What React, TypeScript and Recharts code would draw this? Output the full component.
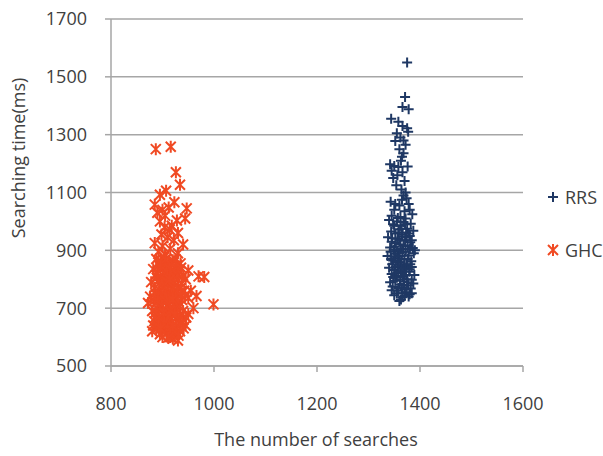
import { ScatterChart, Scatter, XAxis, YAxis, CartesianGrid, Legend, Label } from "recharts";

// [number of searches, searching time (ms)]
const rrsPoints: [number, number][] = [
  [1375, 1550], [1371, 1430], [1366, 1396], [1378, 1388], [1344, 1355], [1366, 1330], [1375, 1322],
  [1355, 1305], [1362, 1290], [1368, 1280], [1352, 1278], [1372, 1265], [1360, 1250], [1368, 1236],
  [1365, 1224], [1342, 1198], [1350, 1192], [1358, 1188], [1376, 1190], [1345, 1175], [1356, 1160],
  [1366, 1170], [1348, 1150], [1370, 1140], [1372, 1100], [1368, 1090], [1374, 1080], [1365, 1075],
  [1343, 1068], [1378, 1060], [1360, 1055], [1350, 1040], [1370, 1035], [1385, 1025], [1345, 1020],
  [1362, 1015], [1357, 1012], [1372, 1010], [1380, 1040], [1352, 1060], [1364, 1110], [1354, 1125],
  [1363, 1210], [1377, 1310], [1358, 1345],
  [1340, 1005], [1348, 990], [1355, 1000], [1362, 985], [1368, 998], [1375, 975], [1382, 992],
  [1344, 965], [1352, 958], [1359, 972], [1366, 955], [1373, 962], [1380, 950], [1387, 968],
  [1350, 985], [1358, 962], [1364, 975], [1371, 990], [1378, 958],
  [1338, 945], [1345, 930], [1351, 912], [1357, 940], [1362, 920], [1367, 905], [1371, 935],
  [1376, 915], [1381, 928], [1386, 908], [1349, 902], [1364, 948], [1390, 900],
  [1346, 942], [1353, 925], [1360, 935], [1368, 918], [1374, 945], [1384, 935], [1342, 910],
  [1356, 898], [1363, 905], [1372, 895], [1380, 905],
  [1337, 880], [1343, 895], [1348, 865], [1353, 888], [1358, 872], [1362, 858], [1366, 892],
  [1370, 870], [1374, 850], [1378, 882], [1383, 862], [1388, 890], [1346, 852], [1360, 880],
  [1350, 878], [1357, 860], [1364, 868], [1369, 848], [1376, 870], [1381, 852], [1344, 870],
  [1340, 840], [1345, 818], [1350, 832], [1355, 805], [1359, 845], [1363, 822], [1367, 810],
  [1371, 838], [1375, 800], [1379, 826], [1384, 842], [1389, 815], [1352, 812], [1368, 828],
  [1353, 842], [1358, 825], [1365, 838], [1373, 815], [1380, 835], [1348, 808],
  [1342, 790], [1347, 775], [1352, 795], [1357, 760], [1361, 782], [1365, 770], [1369, 792],
  [1373, 755], [1377, 778], [1382, 768], [1387, 785], [1355, 752], [1370, 765],
  [1362, 798], [1369, 780], [1376, 790], [1384, 798], [1345, 762], [1358, 770], [1366, 752],
  [1374, 768], [1380, 748],
  [1360, 725], [1378, 740], [1384, 752], [1350, 745], [1366, 738], [1363, 730], [1370, 742],
];

const ghcPoints: [number, number][] = [
  [887, 1250], [916, 1258], [926, 1170], [934, 1127], [907, 1106], [895, 1092], [885, 1058],
  [923, 1066], [947, 1045], [944, 1010], [928, 1003], [900, 1040], [912, 1048], [890, 1030],
  [905, 1020], [895, 1000], [918, 985], [904, 980], [914, 972], [930, 960], [898, 955],
  [910, 945], [885, 925], [922, 935], [940, 920], [900, 915], [915, 905], [892, 895],
  [930, 890], [905, 885], [970, 810], [981, 808], [966, 742], [950, 735], [999, 713],
  [872, 718], [930, 588], [915, 600], [895, 610], [880, 620], [905, 625], [945, 640],
  [940, 660], [950, 680], [960, 700], [955, 760], [945, 800], [950, 830], [935, 855], [925, 870],
  [888, 870], [897, 862], [903, 876], [912, 858], [920, 866], [928, 850], [893, 848], [908, 852],
  [892, 858], [899, 845], [906, 868], [911, 832], [917, 850], [921, 818], [926, 844], [933, 828],
  [882, 835], [890, 820], [896, 842], [901, 812], [907, 828], [913, 838], [918, 808], [924, 825],
  [930, 815], [936, 840], [889, 805], [904, 802], [916, 822], [940, 812],
  [887, 815], [894, 798], [901, 788], [909, 812], [920, 795], [929, 800], [935, 770],
  [878, 790], [884, 770], [891, 795], [895, 760], [899, 782], [903, 770], [908, 792], [911, 756],
  [915, 778], [919, 765], [923, 790], [927, 752], [931, 774], [937, 786], [942, 760], [886, 752],
  [906, 758], [914, 798], [898, 748], [904, 735], [916, 752], [921, 772], [928, 762],
  [876, 740], [883, 725], [888, 745], [893, 712], [897, 733], [902, 720], [906, 745], [910, 705],
  [914, 728], [918, 742], [922, 715], [926, 735], [933, 708], [938, 728], [944, 745], [890, 700],
  [912, 738], [930, 722], [885, 735], [891, 722], [899, 708], [907, 725], [913, 714], [920, 730],
  [927, 700], [935, 745],
  [880, 690], [886, 668], [891, 682], [896, 655], [900, 695], [905, 672], [909, 688], [913, 660],
  [917, 678], [921, 695], [925, 665], [929, 684], [934, 672], [940, 690], [946, 668], [899, 663],
  [919, 651], [887, 685], [894, 672], [902, 684], [911, 670], [915, 690], [924, 678], [931, 660],
  [938, 650], [884, 655],
  [882, 640], [888, 628], [894, 645], [899, 618], [904, 636], [908, 612], [913, 642], [918, 625],
  [923, 608], [928, 638], [934, 620], [941, 630], [900, 600], [920, 595], [892, 638], [903, 650],
  [910, 630], [916, 612], [925, 625], [931, 605], [896, 630], [911, 598], [920, 640],
];

const xTicks = [800, 1000, 1200, 1400, 1600];
const yTicks = [500, 700, 900, 1100, 1300, 1500, 1700];

const RRS_COLOR = "#1F3864";
const GHC_COLOR = "#F04A23";
const AXIS_COLOR = "#A6A6A6";
const TEXT_COLOR = "#404040";
const FONT = "'Open Sans', sans-serif";

const rrsData = rrsPoints.map(([x, y]) => ({ x, y }));
const ghcData = ghcPoints.map(([x, y]) => ({ x, y }));

const plusPath = (cx: number, cy: number, r = 5) =>
  `M${cx - r},${cy}H${cx + r}M${cx},${cy - r}V${cy + r}`;

const starPath = (cx: number, cy: number, r = 5) =>
  `M${cx - r},${cy - r}L${cx + r},${cy + r}M${cx - r},${cy + r}L${cx + r},${cy - r}M${cx},${cy - r - 1}V${cy + r + 1}`;

const PlusShape = (props: any) => (
  <path d={plusPath(props.cx, props.cy)} stroke={RRS_COLOR} strokeWidth={2} fill="none" />
);

const StarShape = (props: any) => (
  <path d={starPath(props.cx, props.cy)} stroke={GHC_COLOR} strokeWidth={2} fill="none" />
);

const renderLegend = () => {
  const items = [
    { name: "RRS", path: plusPath(7, 7), color: RRS_COLOR },
    { name: "GHC", path: starPath(7, 7), color: GHC_COLOR },
  ];
  return (
    <div>
      {items.map((item, i) => (
        <div
          key={item.name}
          style={{
            display: "flex",
            alignItems: "center",
            height: 20,
            marginTop: i === 0 ? 0 : 33,
          }}
        >
          <svg width={14} height={14} style={{ marginRight: 5 }}>
            <path d={item.path} stroke={item.color} strokeWidth={2} fill="none" />
          </svg>
          <span style={{ fontFamily: FONT, fontSize: 18, color: TEXT_COLOR }}>{item.name}</span>
        </div>
      ))}
    </div>
  );
};

export default function App() {
  const tickStyle = { fill: TEXT_COLOR, fontSize: 18, fontFamily: FONT };
  return (
    <div style={{ position: "absolute", left: 0, top: 0 }}>
      <ScatterChart width={603} height={456} margin={{ top: 19, right: 80, bottom: 0, left: 0 }}>
        <CartesianGrid vertical={false} stroke={AXIS_COLOR} strokeWidth={1.5} />
        <XAxis
          type="number"
          dataKey="x"
          domain={[800, 1600]}
          ticks={xTicks}
          height={90}
          stroke={AXIS_COLOR}
          strokeWidth={1.5}
          tickSize={6}
          tickMargin={25}
          tick={tickStyle}
        >
          <Label
            content={() => (
              <text x={316} y={446} textAnchor="middle" fill={TEXT_COLOR} fontSize={18} fontFamily={FONT}>
                The number of searches
              </text>
            )}
          />
        </XAxis>
        <YAxis
          type="number"
          dataKey="y"
          domain={[500, 1700]}
          ticks={yTicks}
          width={111}
          stroke={AXIS_COLOR}
          strokeWidth={1.5}
          tickSize={6}
          tickMargin={18}
          tick={tickStyle}
        >
          <Label
            content={() => (
              <text
                x={25}
                y={158}
                transform="rotate(-90 25 158)"
                textAnchor="middle"
                fill={TEXT_COLOR}
                fontSize={18}
                fontFamily={FONT}
              >
                Searching time(ms)
              </text>
            )}
          />
        </YAxis>
        <Legend
          layout="vertical"
          align="center"
          verticalAlign="middle"
          content={renderLegend}
          wrapperStyle={{ left: 546, top: 187, width: 60 }}
        />
        <Scatter name="RRS" data={rrsData} shape={PlusShape} isAnimationActive={false} />
        <Scatter name="GHC" data={ghcData} shape={StarShape} isAnimationActive={false} />
      </ScatterChart>
    </div>
  );
}
